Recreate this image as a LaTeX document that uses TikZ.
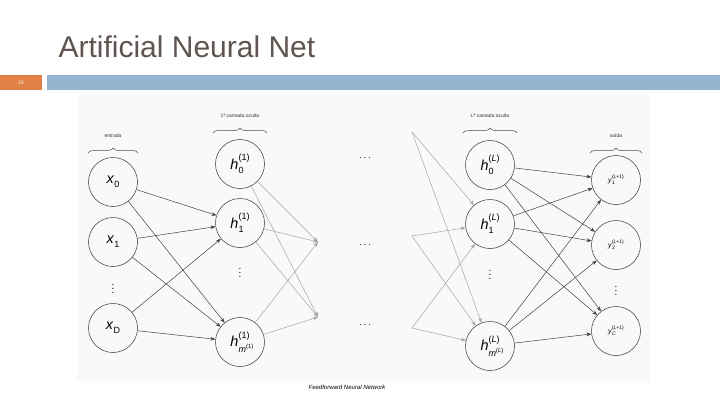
\documentclass[tikz,border=0pt]{standalone}
\usepackage{fontspec}
\setmainfont{Liberation Sans}
\usetikzlibrary{decorations.pathreplacing,arrows.meta}
\definecolor{titlec}{RGB}{94,84,80}
\definecolor{barblue}{RGB}{148,180,208}
\definecolor{barorange}{RGB}{224,128,70}
\definecolor{bgc}{RGB}{249,249,251}
\newcommand{\ssz}{\small}
\newcommand{\myss}[3]{\textit{#1}\makebox[0pt][l]{\raisebox{-0.55ex}{\ssz #2}}\raisebox{1.1ex}{\ssz #3}}
\newcommand{\mysub}[2]{\textit{#1}\raisebox{-0.5ex}{\ssz #2}}
\begin{document}
\begin{tikzpicture}[x=1pt,y=-1pt,
  neu/.style={circle,draw=black!80,line width=0.5pt,minimum size=49pt,inner sep=0pt,font=\Large},
  yneu/.style={neu,font=\scriptsize\renewcommand{\ssz}{\tiny}},
  dts/.style={inner sep=0pt,font=\normalsize},
  ar/.style={-{Stealth[length=5pt]},black!75,line width=0.5pt},
  gar/.style={-{Stealth[length=5pt]},black!35,line width=0.5pt},
  lab/.style={font=\tiny,text=black!80},
  br/.style={decorate,decoration={brace,amplitude=5pt},black!70,line width=0.5pt}]
\useasboundingbox (0,0) rectangle (720,405);
\fill[white] (0,0) rectangle (720,405);
\node[anchor=base west,font=\fontsize{30}{34}\selectfont,text=titlec] (title) at (55,57) {Artificial Neural Net};
\fill[barorange] (0,75) rectangle (42,90);
\node[font=\fontsize{5}{6}\selectfont,text=white] (pg) at (21,82.5) {15};
\fill[barblue] (47,75) rectangle (720,90);
\fill[bgc] (77,95) rectangle (650,381);
% input
\node[neu] (x0) at (113,182) {\mysub{x}{0}};
\node[neu] (x1) at (113,242) {\mysub{x}{1}};
\node[dts] (xd) at (113,286) {$\vdots$};
\node[neu] (xD) at (113,328) {\mysub{x}{D}};
% hidden 1
\node[neu] (a0) at (240,164) {\myss{h}{0}{(1)}};
\node[neu] (a1) at (240,223) {\myss{h}{1}{(1)}};
\node[dts] (ad) at (240,270) {$\vdots$};
\node[neu] (am) at (240,342) {\myss{h}{\raisebox{-0.3ex}{\textit{m}\textsuperscript{(1)}}}{(1)}};
% middle dots
\node[dts] (m0) at (365,158) {$\cdots$};
\node[dts] (m1) at (365,245) {$\cdots$};
\node[dts] (m2) at (365,325) {$\cdots$};
% hidden L
\node[neu] (b0) at (490,165) {\myss{h}{0}{(\textit{L})}};
\node[neu] (b1) at (490,224) {\myss{h}{1}{(\textit{L})}};
\node[dts] (bd) at (490,272) {$\vdots$};
\node[neu] (bm) at (490,346) {\myss{h}{\raisebox{-0.3ex}{\textit{m}\textsuperscript{(\textit{L})}}}{(\textit{L})}};
% output
\node[yneu] (y1) at (616,180) {\myss{y}{1}{(\textit{L}+1)}};
\node[yneu] (y2) at (616,245) {\myss{y}{2}{(\textit{L}+1)}};
\node[dts] (yd) at (616,288) {$\vdots$};
\node[yneu] (yC) at (616,331) {\myss{y}{\textit{C}}{(\textit{L}+1)}};
% labels and braces
\draw[br] (88,153) -- (138,153);
\node[lab] (le) at (113,136) {entrada};
\draw[br] (213,133) -- (267,133);
\node[lab] (l1) at (240,116) {1ª camada oculta};
\draw[br] (463,133) -- (517,133);
\node[lab] (lL) at (490,116) {Lª camada oculta};
\draw[br] (590,153) -- (642,153);
\node[lab] (ls) at (616,136) {saída};
% free ends
\coordinate (p1) at (318,242);
\coordinate (p2) at (318,317);
\coordinate (q0) at (412,132);
\coordinate (q1) at (412,236);
\coordinate (q2) at (412,328);
% edges
\foreach \s in {x0,x1,xD}{\foreach \t in {a1,am}{\draw[ar] (\s) -- (\t);}}
\foreach \s in {a0,a1,am}{\foreach \t in {p1,p2}{\draw[gar] (\s) -- (\t);}}
\foreach \s in {q0,q1,q2}{\foreach \t in {b1,bm}{\draw[gar] (\s) -- (\t);}}
\foreach \s in {b0,b1,bm}{\foreach \t in {y1,y2,yC}{\draw[ar] (\s) -- (\t);}}
\node[font=\fontsize{6}{7}\selectfont\itshape] (cap) at (347,387) {Feedforward Neural Network};
\end{tikzpicture}
\end{document}
